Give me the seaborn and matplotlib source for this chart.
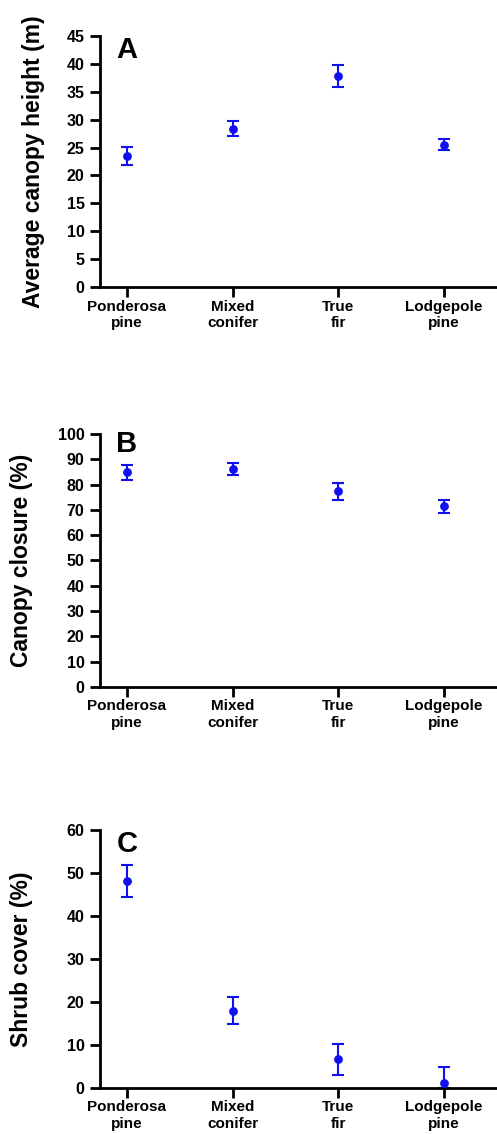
import matplotlib
matplotlib.use("Agg")
import matplotlib.pyplot as plt
import pandas as pd
import seaborn as sns

FOREST_TYPES = ["Ponderosa\npine", "Mixed\nconifer", "True\nfir", "Lodgepole\npine"]

HEIGHT_MEAN = [23.5, 28.4, 37.9, 25.5]
HEIGHT_ERR = [1.6, 1.4, 1.95, 1.0]

CLOSURE_MEAN = [84.9, 86.1, 77.4, 71.4]
CLOSURE_ERR = [3.0, 2.25, 3.4, 2.7]

SHRUB_MEAN = [48.1, 18.0, 6.7, 1.2]
SHRUB_ERR_LOW = [3.65, 3.05, 3.6, 1.2]
SHRUB_ERR_HIGH = [3.65, 3.05, 3.6, 3.65]

BLUE = "#1010F0"

PANELS = [
    # letter, ylabel, means, (low, high), ymax, ystep, axes rect, letter y, label x
    ("A", "Average canopy height (m)", HEIGHT_MEAN, (HEIGHT_ERR, HEIGHT_ERR), 45, 5,
     [0.201, 0.7469, 0.799, 0.2213], 0.944, -0.137),
    ("B", "Canopy closure (%)", CLOSURE_MEAN, (CLOSURE_ERR, CLOSURE_ERR), 100, 10,
     [0.201, 0.3942, 0.799, 0.2231], 0.962, -0.168),
    ("C", "Shrub cover (%)", SHRUB_MEAN, (SHRUB_ERR_LOW, SHRUB_ERR_HIGH), 60, 10,
     [0.201, 0.0406, 0.799, 0.2275], 0.946, -0.168),
]


def setup_style():
    sns.set_theme(style="ticks")
    plt.rcParams["font.family"] = ["Liberation Sans", "DejaVu Sans"]
    plt.rcParams["font.weight"] = "bold"
    plt.rcParams["axes.labelweight"] = "bold"
    for key in ["text.color", "axes.labelcolor", "xtick.color", "ytick.color"]:
        plt.rcParams[key] = "black"


def draw_panel(fig, letter, ylabel, means, errs, ymax, ystep, rect, letter_y, label_x):
    ax = fig.add_axes(rect)
    df = pd.DataFrame({"forest": FOREST_TYPES, "value": means})
    ax.errorbar(range(len(FOREST_TYPES)), df["value"], yerr=[errs[0], errs[1]],
                fmt="none", ecolor=BLUE, elinewidth=1.5, capsize=4.5, capthick=1.5,
                clip_on=False, zorder=2)
    sns.scatterplot(data=df, x="forest", y="value", ax=ax, color=BLUE, s=40,
                    edgecolor=BLUE, linewidth=0, zorder=3, clip_on=False)
    ax.set_xlim(-0.255, 3.5)
    ax.set_ylim(0, ymax)
    ax.set_yticks(range(0, ymax + 1, ystep))
    ax.set_xticks(range(len(FOREST_TYPES)))
    ax.set_xticklabels(FOREST_TYPES, fontsize=11, fontweight="bold", linespacing=1.2)
    for t in ax.get_yticklabels():
        t.set_fontsize(11.5)
        t.set_fontweight("bold")
    ax.set_xlabel("")
    ax.set_ylabel(ylabel, fontsize=16.5, fontweight="bold")
    ax.yaxis.set_label_coords(label_x, 0.5)
    sns.despine(ax=ax)
    for side in ["left", "bottom"]:
        ax.spines[side].set_linewidth(2)
        ax.spines[side].set_color("black")
    ax.tick_params(direction="out", length=7, width=2, colors="black")
    ax.tick_params(axis="y", pad=4)
    ax.tick_params(axis="x", pad=2)
    ax.text(0.068, letter_y, letter, transform=ax.transAxes, ha="center", va="center",
            fontsize=21, fontweight="bold", color="black")
    ax.set_facecolor("white")


def main():
    setup_style()
    fig = plt.figure(figsize=(4.97, 11.34), dpi=100)
    fig.patch.set_facecolor("white")
    for panel in PANELS:
        draw_panel(fig, *panel)
    fig.savefig("out.png", dpi=100, facecolor="white")
    plt.close(fig)


if __name__ == "__main__":
    main()
